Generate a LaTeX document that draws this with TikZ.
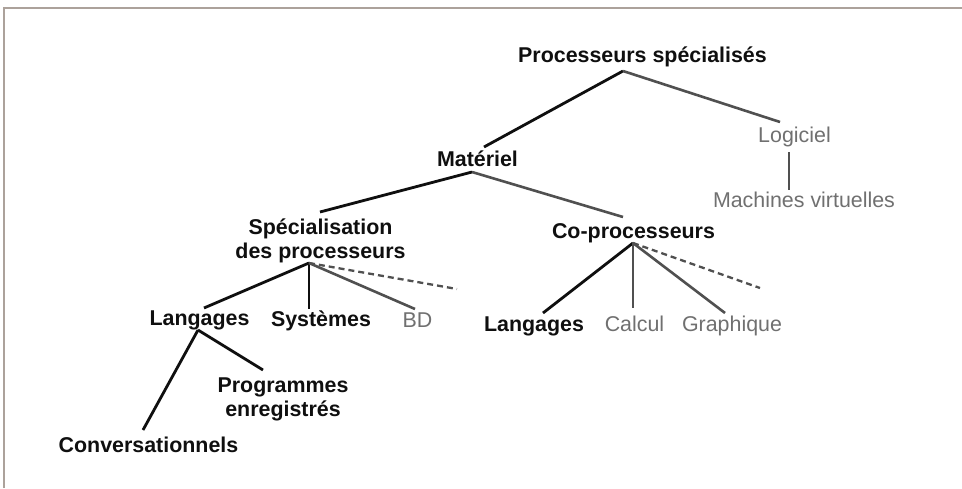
\documentclass[tikz,border=0pt]{standalone}
\usepackage{fontspec}
\setmainfont{Liberation Sans}
\definecolor{framec}{RGB}{172,162,155}
\definecolor{txtgray}{RGB}{112,112,112}
\definecolor{lngray}{RGB}{80,80,80}
\definecolor{ink}{RGB}{15,15,15}
\begin{document}
\begin{tikzpicture}[x=1pt,y=-1pt,
  lbl/.style={inner sep=0pt, anchor=base, font=\fontsize{21.4}{24}\selectfont\bfseries, text=ink},
  glbl/.style={inner sep=0pt, anchor=base, font=\fontsize{21.4}{24}\selectfont, text=txtgray},
  blk/.style={draw=ink, line width=2.8pt},
  gry/.style={draw=lngray, line width=2.6pt},
  dsh/.style={draw=lngray, line width=2.3pt, dash pattern=on 6pt off 4pt}]
\fill[white] (0,0) rectangle (962,488);
\useasboundingbox (0,0) rectangle (962,488);
\draw[framec, line width=2.8pt, line join=miter] (4,488) -- (4,8) -- (962,8);

\node[lbl] (ps) at (642.5,62.5) {Processeurs spécialisés};
\node[glbl] (log) at (794.5,142) {Logiciel};
\node[glbl] (mv) at (804,207) {Machines virtuelles};
\node[lbl] (mat) at (477.5,166) {Matériel};
\node[lbl] (spe) at (320.5,234) {\begin{tabular}[t]{@{}c@{}}Spécialisation\\des processeurs\end{tabular}};
\node[lbl] (cop) at (633.5,238) {Co-processeurs};
\node[lbl] (lang) at (199.5,325) {Langages};
\node[lbl] (sys) at (321,326) {Systèmes};
\node[glbl] (bd) at (417.5,327) {BD};
\node[lbl] (lang2) at (534,331) {Langages};
\node[glbl] (calc) at (634.5,331) {Calcul};
\node[glbl] (graph) at (732,331) {Graphique};
\node[lbl] (prog) at (283,392) {\begin{tabular}[t]{@{}c@{}}Programmes\\enregistrés\end{tabular}};
\node[lbl] (conv) at (148.5,452) {Conversationnels};

\coordinate (psB) at ([shift={(-19.5,8.5)}]ps.base);
\coordinate (matT) at ([shift={(6.5,-19)}]mat.base);
\coordinate (logT) at ([shift={(-14.5,-20)}]log.base);
\coordinate (logB) at ([shift={(-5.5,10)}]log.base);
\coordinate (mvT) at ([shift={(-15,-17)}]mv.base);
\coordinate (matB) at ([shift={(-5.5,6)}]mat.base);
\coordinate (speT) at ([shift={(-0.5,-22)}]spe.base);
\coordinate (copT) at ([shift={(-10.5,-21)}]cop.base);
\coordinate (speB) at ([shift={(-11.5,29)}]spe.base);
\coordinate (langT) at ([shift={(4.5,-17)}]lang.base);
\coordinate (sysT) at ([shift={(-12,-17)}]sys.base);
\coordinate (bdT) at ([shift={(-2.5,-18)}]bd.base);
\coordinate (speD) at (457,289);
\coordinate (copB) at ([shift={(-0.5,5)}]cop.base);
\coordinate (lang2T) at ([shift={(9,-18)}]lang2.base);
\coordinate (calcT) at ([shift={(-1.5,-23)}]calc.base);
\coordinate (graphT) at ([shift={(-7,-18)}]graph.base);
\coordinate (copD) at (760,288);
\coordinate (langB) at ([shift={(-1.5,5)}]lang.base);
\coordinate (progT) at ([shift={(-20,-22)}]prog.base);
\coordinate (convT) at ([shift={(-5.5,-22)}]conv.base);

\draw[blk] (psB) -- (matT);
\draw[gry] (psB) -- (logT);
\draw[gry] (logB) -- (mvT);
\draw[blk] (matB) -- (speT);
\draw[gry] (matB) -- (copT);
\draw[blk] (speB) -- (langT);
\draw[blk] (speB) -- (sysT);
\draw[gry] (speB) -- (bdT);
\draw[dsh] (speB) -- (speD);
\draw[blk] (copB) -- (lang2T);
\draw[gry] (copB) -- (calcT);
\draw[gry] (copB) -- (graphT);
\draw[dsh] (copB) -- (copD);
\draw[blk] (langB) -- (progT);
\draw[blk] (langB) -- (convT);
\end{tikzpicture}
\end{document}
